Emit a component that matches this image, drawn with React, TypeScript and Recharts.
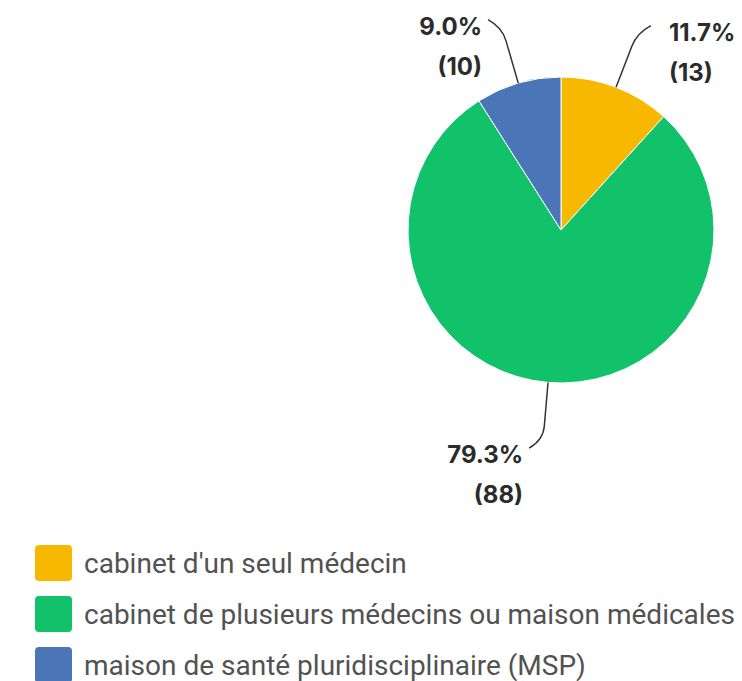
import React from 'react';
import { Cell, Pie, PieChart } from 'recharts';

const CATEGORIES = [
  "cabinet d'un seul médecin",
  'cabinet de plusieurs médecins ou maison médicales',
  'maison de santé pluridisciplinaire (MSP)',
];
const COUNTS = [13, 88, 10];
const COLORS = ['#f8b800', '#12c26b', '#4a76b8'];

const RADIAN = Math.PI / 180;

const chartData = CATEGORIES.map((name, i) => ({ name, value: COUNTS[i] }));

const renderLabel = (props: any) => {
  const { cx, cy, midAngle, outerRadius, percent, value } = props;
  const cos = Math.cos(-midAngle * RADIAN);
  const sin = Math.sin(-midAngle * RADIAN);
  const sx = cx + outerRadius * cos;
  const sy = cy + outerRadius * sin;
  const mx = cx + (outerRadius + 44) * cos;
  const my = cy + (outerRadius + 44) * sin;
  const ex = cx + (outerRadius + 58) * cos;
  const ey = cy + (outerRadius + 58) * sin;
  const dir = cos >= 0 ? 1 : -1;
  const tx = ex + dir * 14;
  const ty = ey + sin * 8;
  const textX = tx + (dir > 0 ? 18 : -6);
  const textY = ty + 15;
  return (
    <g>
      <path
        d={`M${sx},${sy} L${mx},${my} Q${ex},${ey} ${tx},${ty}`}
        stroke="#333"
        strokeWidth={1.5}
        fill="none"
      />
      <text
        x={textX}
        y={textY}
        textAnchor={dir > 0 ? 'start' : 'end'}
        fill="#2b2b2b"
        fontSize={24}
        fontWeight={700}
        fontFamily="Inter, 'Liberation Sans', sans-serif"
      >
        <tspan x={textX}>{`${(percent * 100).toFixed(1)}%`}</tspan>
        <tspan x={textX} dy={40}>{`(${value})`}</tspan>
      </text>
    </g>
  );
};

export default function App() {
  return (
    <div style={{ position: 'absolute', top: 0, left: 0, width: 742, height: 681, background: '#fff' }}>
      <PieChart width={742} height={540} margin={{ top: 0, right: 0, bottom: 0, left: 0 }}>
        <Pie
          data={chartData}
          dataKey="value"
          nameKey="name"
          cx={561}
          cy={230}
          outerRadius={153}
          startAngle={90}
          endAngle={-270}
          stroke="#ffffff"
          strokeWidth={1}
          label={renderLabel}
          labelLine={false}
          isAnimationActive={false}
        >
          {chartData.map((entry, i) => (
            <Cell key={entry.name} fill={COLORS[i]} />
          ))}
        </Pie>
      </PieChart>
      <div style={{ position: 'absolute', left: 35, top: 545 }}>
        {CATEGORIES.map((name, i) => (
          <div key={name} style={{ display: 'flex', alignItems: 'center', height: 36, marginBottom: 15 }}>
            <span
              style={{
                width: 37,
                height: 36,
                borderRadius: 4,
                background: COLORS[i],
                display: 'inline-block',
                marginRight: 12,
                flexShrink: 0,
              }}
            />
            <span
              style={{
                fontFamily: 'Roboto, sans-serif',
                fontSize: 28,
                color: '#525252',
                whiteSpace: 'nowrap',
              }}
            >
              {name}
            </span>
          </div>
        ))}
      </div>
    </div>
  );
}
